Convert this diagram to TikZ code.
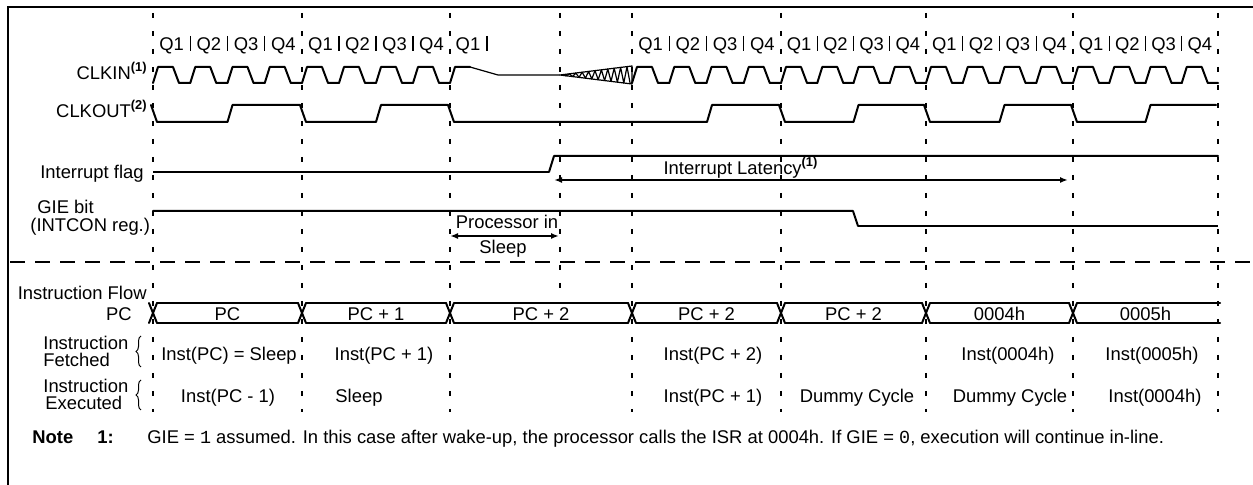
\documentclass[tikz,border=0pt]{standalone}
\usepackage{fontspec}
\setmainfont{Liberation Sans}
\setmonofont{Liberation Mono}
\usetikzlibrary{arrows.meta,decorations.pathreplacing}

\tikzset{
  lbl/.style={inner sep=0pt, anchor=mid, yshift=-0.9pt, font=\fontsize{9.2}{11}\selectfont},
  sig/.style={line width=1pt, line join=round, line cap=round},
  sigthin/.style={line width=0.6pt, line join=round},
  cycline/.style={line width=1pt, dash pattern=on 2.5pt off 6.5pt},
  sepline/.style={line width=1pt, dash pattern=on 7.5pt off 5pt},
  spanarrow/.style={line width=1pt, {Latex[length=4pt,width=3pt]}-{Latex[length=4pt,width=3pt]}},
  cbrace/.style={line width=0.5pt, decorate, decoration={brace, amplitude=2.5pt}},
}

\begin{document}
\begin{tikzpicture}[x=0.5pt, y=-0.5pt]
    \useasboundingbox (0,0) rectangle (1253,485);

    % Frame
    \draw[line width=1pt] (8,485) -- (8,7) -- (1253,7);

    % Cycle boundaries
    \foreach \x in {153,302,450,632,781,926,1073,1218}
        \draw[cycline] (\x,13) -- (\x,412);
    \draw[cycline] (560,13) -- (560,292);

    % Divider between signals and instruction flow
    \draw[sepline] (10,262) -- (1253,262);

    % Q labels
    \foreach \a/\b in {153/302,302/450,632/781,781/926,926/1073,1073/1218}{
        \pgfmathsetmacro\w{(\b-\a)/4}
        \foreach \q in {1,...,4}
            \node[lbl] (q-\a-\q) at ({\a+(\q-0.5)*\w},43) {Q\q};
        \foreach \q in {1,2,3}
            \draw[line width=0.7pt] ({\a+\q*\w},36) -- ({\a+\q*\w},51);
    }
    \node[lbl] (q-sleep) at (468,43) {Q1};
    \draw[line width=0.7pt] (487,36) -- (487,51);

    % Signal names
    \node[lbl, anchor=mid east] (clkin) at (148,72) {CLKIN\textsuperscript{\textbf{(1)}}};
    \node[lbl, anchor=mid east] (clkout) at (148,110) {CLKOUT\textsuperscript{\textbf{(2)}}};
    \node[lbl, anchor=mid east] (intflag) at (144,171) {Interrupt flag};
    \node[lbl, anchor=mid west] (gie) at (37,206) {GIE bit};
    \node[lbl, anchor=mid west] (intcon) at (30,224) {(INTCON reg.)};

    % CLKIN
    \foreach \a/\b in {153/302,302/450,632/781,781/926,926/1073,1073/1218}{
        \pgfmathsetmacro\w{(\b-\a)/4}
        \foreach \q in {0,...,3}
            \draw[sig] ({\a+\q*\w},83) -- ({\a+\q*\w+5},67) -- ({\a+\q*\w+20},67)
                -- ({\a+\q*\w+26},83) -- ({\a+(\q+1)*\w},83);
    }
    \draw[sig] (450,83) -- (455,67) -- (470,67);
    \draw[sigthin] (470,67) -- (498,75) -- (560,75);
    % oscillator start-up
    \draw[sigthin] (560,75) -- (632,66) -- (632,84) -- cycle;
    \draw[sigthin] (563,75) \foreach \k in {1,...,21} {
        -- ({563+3.2*\k},{75+(2*mod(\k,2)-1)*(3+3.2*\k)/8}) };

    % CLKOUT
    \foreach \a/\b in {153/302,302/450,781/926,926/1073,1073/1218}{
        \pgfmathsetmacro\w{(\b-\a)/4}
        \draw[sig] ({\a-2},105) -- ({\a+4},122) -- ({\a+2*\w},122)
            -- ({\a+2*\w+5},105) -- ({\b-2},105);
    }
    \draw[sig] (448,105) -- (454,122) -- (707,122) -- (712,105) -- (779,105);

    % Interrupt flag
    \draw[sigthin] (153,172) -- (549,172);
    \draw[sig] (549,172) -- (554,156) -- (1218,156);
    \coordinate (lat-start) at (554,180);
    \coordinate (lat-end) at (1068,180);
    \draw[spanarrow] (lat-start) -- (lat-end);
    \node[lbl] (latency) at (741,167) {Interrupt Latency\textsuperscript{\textbf{(1)}}};

    % GIE bit
    \draw[sig] (153,211) -- (853,211) -- (858,226);
    \draw[sigthin] (858,226) -- (1218,226);
    \coordinate (slp-start) at (450,236);
    \coordinate (slp-end) at (559,236);
    \draw[spanarrow] (slp-start) -- (slp-end);
    \node[lbl] (proc-in) at (507,221) {Processor in};
    \node[lbl] (proc-sleep) at (503,246) {Sleep};

    % Instruction flow
    \node[lbl, anchor=mid east] (flow) at (147,292) {Instruction Flow};
    \node[lbl, anchor=mid east] (pc) at (132,313) {PC};
    \foreach \x in {153,302,450,632,781,926,1073}{
        \draw[sig] ({\x-4},303) -- ({\x+4},323);
        \draw[sig] ({\x-4},323) -- ({\x+4},303);
    }
    \foreach \a/\b/\e/\t [count=\i] in {153/302/298/PC, 302/450/446/PC + 1,
        450/632/628/PC + 2, 632/781/777/PC + 2, 781/926/922/PC + 2,
        926/1073/1069/0004h, 1073/1218/1220/0005h}{
        \draw[sig] ({\a+4},303) -- (\e,303);
        \draw[sig] ({\a+4},323) -- (\e,323);
        \node[lbl] (pc-\i) at ({(\a+\b)/2},313) {\t};
    }

    % Fetched / executed
    \node[lbl, anchor=mid west] (fet-a) at (43,342) {Instruction};
    \node[lbl, anchor=mid west] (fet-b) at (43,359) {Fetched};
    \draw[cbrace] (141,367) -- (141,336);
    \node[lbl, anchor=mid west] (exe-a) at (43,385) {Instruction};
    \node[lbl, anchor=mid west] (exe-b) at (45,402) {Executed};
    \draw[cbrace] (141,410) -- (141,380);

    \foreach \x/\t [count=\i] in {229/Inst(PC) = Sleep, 384/Inst(PC + 1),
        713/Inst(PC + 2), 1008/Inst(0004h), 1152/Inst(0005h)}
        \node[lbl] (fet-\i) at (\x,353) {\t};
    \foreach \x/\t [count=\i] in {228/Inst(PC - 1), 359/Sleep, 713/Inst(PC + 1),
        857/Dummy Cycle, 1010/Dummy Cycle, 1155/Inst(0004h)}
        \node[lbl] (exe-\i) at (\x,395) {\t};

    % Note
    \node[lbl, anchor=mid west] (note-head) at (32,436) {\textbf{Note}};
    \node[lbl, anchor=mid west] (note-num) at (97,436) {\textbf{1:}};
    \node[lbl, anchor=mid west] (note-text) at (147,436) {GIE = \texttt{1} assumed. In this case after wake-up, the processor calls the ISR at 0004h. If GIE = \texttt{0}, execution will continue in-line.};
\end{tikzpicture}
\end{document}
